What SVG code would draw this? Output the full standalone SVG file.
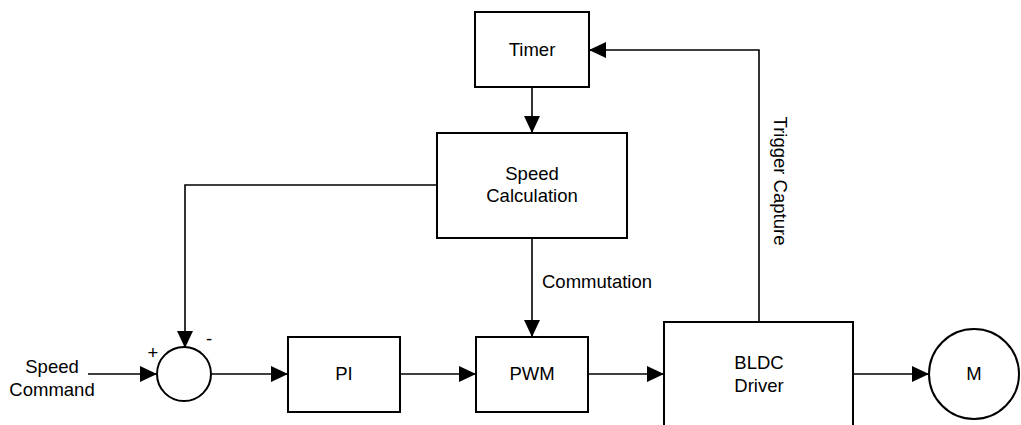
<svg xmlns="http://www.w3.org/2000/svg" width="1021" height="425" viewBox="0 0 1021 425">
<style>
.box{fill:#fff;stroke:#000;stroke-width:2}
.ln{fill:none;stroke:#000;stroke-width:1.6}
text{font-family:"Liberation Sans",Arial,sans-serif;font-size:18.5px;fill:#000}
.c{text-anchor:middle}
</style>
<defs>
<marker id="ah" viewBox="0 0 17 16" refX="17" refY="8" markerWidth="17" markerHeight="16" markerUnits="userSpaceOnUse" orient="auto">
<path d="M0,0 L17,8 L0,16 Z" fill="#000"/>
</marker>
</defs>
<rect width="1021" height="425" fill="#fff"/>
<g id="connectors">
<path class="ln" d="M532,87 V133" marker-end="url(#ah)"/>
<path class="ln" d="M437,185 H185 V348" marker-end="url(#ah)"/>
<path class="ln" d="M532,238 V337" marker-end="url(#ah)"/>
<path class="ln" d="M759,322 V50 H589" marker-end="url(#ah)"/>
<path class="ln" d="M88,374 H157" marker-end="url(#ah)"/>
<path class="ln" d="M211,374 H288" marker-end="url(#ah)"/>
<path class="ln" d="M400,374 H476" marker-end="url(#ah)"/>
<path class="ln" d="M588,374 H664" marker-end="url(#ah)"/>
<path class="ln" d="M853,374 H929" marker-end="url(#ah)"/>
<text x="542" y="288">Commutation</text>
<text class="c" transform="translate(774,181) rotate(90)">Trigger Capture</text>
<text class="c" x="52" y="373">Speed</text>
<text class="c" x="52" y="396">Command</text>
</g>
<g id="timer">
<rect class="box" x="475" y="12" width="114" height="75"/>
<text class="c" x="532" y="56">Timer</text>
</g>
<g id="speedcalc">
<rect class="box" x="437" y="133" width="190" height="105"/>
<text class="c" x="532" y="180">Speed</text>
<text class="c" x="532" y="202">Calculation</text>
</g>
<g id="summer">
<circle class="box" cx="184" cy="374" r="27"/>
<text class="c" x="153" y="359">+</text>
<text class="c" x="209" y="345">-</text>
</g>
<g id="pi">
<rect class="box" x="288" y="337" width="112" height="75"/>
<text class="c" x="344" y="380">PI</text>
</g>
<g id="pwm">
<rect class="box" x="476" y="337" width="112" height="75"/>
<text class="c" x="532" y="380">PWM</text>
</g>
<g id="bldc">
<rect class="box" x="664" y="322" width="189" height="120"/>
<text class="c" x="759" y="369">BLDC</text>
<text class="c" x="759" y="392">Driver</text>
</g>
<g id="motor">
<circle class="box" cx="974" cy="374" r="45"/>
<text class="c" x="974" y="380">M</text>
</g>
</svg>
